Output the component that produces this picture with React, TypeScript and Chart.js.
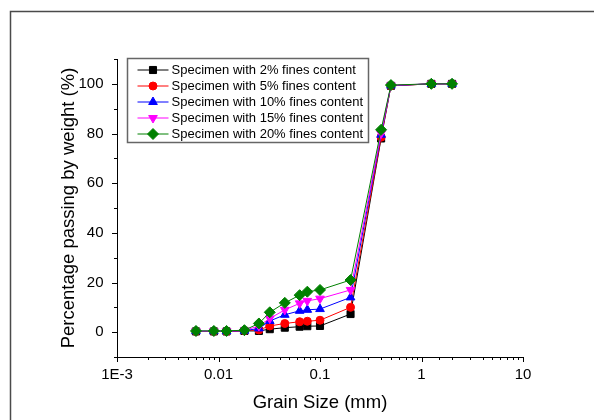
import React, { useEffect, useRef } from 'react';
import { Chart, registerables } from 'chart.js';
import { drawPoint } from 'chart.js/helpers';

Chart.register(...registerables);

const FONT = "'Liberation Sans', Arial, Helvetica, sans-serif";

// Grain size (mm)
const grainSizes = [0.006, 0.009, 0.012, 0.018, 0.025, 0.032, 0.045, 0.063, 0.075, 0.1, 0.2, 0.4, 0.5, 1.25, 2];
// Percentage passing by weight (%)
const fines2 = [0.3, 0.3, 0.3, 0.5, 0.5, 1.2, 1.8, 2.2, 2.4, 2.5, 7.3, 78, 99.2, 100, 100];
const fines5 = [0.3, 0.3, 0.3, 0.6, 0.9, 2.5, 3.5, 4.2, 4.4, 4.8, 10, 78.5, 99.2, 100, 100];
const fines10 = [0.4, 0.4, 0.4, 0.6, 1.5, 4.5, 7, 8.6, 9, 9.3, 14, 79.5, 99.3, 100, 100];
const fines15 = [0.4, 0.4, 0.4, 0.7, 2.5, 5.5, 9, 11.6, 12.6, 13.5, 17, 80, 99.4, 100, 100];
const fines20 = [0.5, 0.5, 0.5, 0.8, 3.5, 8, 11.8, 14.9, 16.3, 17, 21, 81.5, 99.5, 100, 100];

const seriesNames = [
  'Specimen with 2% fines content',
  'Specimen with 5% fines content',
  'Specimen with 10% fines content',
  'Specimen with 15% fines content',
  'Specimen with 20% fines content',
];
const seriesValues = [fines2, fines5, fines10, fines15, fines20];
const seriesColors = ['#000000', '#ff0000', '#0000ff', '#ff00ff', '#008000'];
const seriesPointStyles = ['rect', 'circle', 'triangle', 'triangle', 'rectRot'];
const seriesRotations = [0, 0, 0, 180, 0];
const seriesRadii = [5, 4, 5, 5, 5.5];

const xTickValues = [0.001, 0.01, 0.1, 1, 10];
const xTickLabels = ['1E-3', '0.01', '0.1', '1', '10'];
const yTickLabels = [0, 20, 40, 60, 80, 100];

const isMajorX = (v: number) => xTickValues.some((t) => Math.abs(v - t) / t < 1e-6);
const xLabelFor = (v: number) => {
  const i = xTickValues.findIndex((t) => Math.abs(v - t) / t < 1e-6);
  return i >= 0 ? xTickLabels[i] : '';
};
const isMajorY = (v: number) => yTickLabels.some((t) => Math.abs(v - t) < 1e-6);

const framePlugin = {
  id: 'frame',
  beforeDraw(chart: any) {
    const ctx = chart.ctx;
    ctx.save();
    ctx.strokeStyle = '#4a4a4a';
    ctx.lineWidth = 1.5;
    ctx.beginPath();
    ctx.moveTo(10.5, chart.height);
    ctx.lineTo(10.5, 11.5);
    ctx.lineTo(chart.width, 11.5);
    ctx.stroke();
    ctx.restore();
  },
};

const tickPlugin = {
  id: 'minorMajorTicks',
  afterDraw(chart: any) {
    const ctx = chart.ctx;
    const xs = chart.scales.x;
    const ys = chart.scales.y;
    const area = chart.chartArea;
    ctx.save();
    ctx.strokeStyle = '#000';
    ctx.lineWidth = 1;
    ctx.beginPath();
    xs.ticks.forEach((t: any) => {
      const px = Math.round(xs.getPixelForValue(t.value)) + 0.5;
      const len = isMajorX(t.value) ? 5 : 3;
      ctx.moveTo(px, area.bottom);
      ctx.lineTo(px, area.bottom + len);
    });
    ys.ticks.forEach((t: any) => {
      const py = Math.round(ys.getPixelForValue(t.value)) + 0.5;
      const len = isMajorY(t.value) ? 5 : 3;
      ctx.moveTo(area.left, py);
      ctx.lineTo(area.left - len, py);
    });
    ctx.stroke();
    ctx.restore();
  },
};

const legendPlugin = {
  id: 'boxLegend',
  afterDraw(chart: any) {
    const ctx = chart.ctx;
    const area = chart.chartArea;
    const bx = area.left + 10.5;
    const by = area.top - 0.5;
    const bw = 241;
    const bh = 84;
    ctx.save();
    ctx.strokeStyle = '#666';
    ctx.lineWidth = 1.5;
    ctx.strokeRect(bx, by, bw, bh);
    ctx.font = `13px ${FONT}`;
    ctx.textBaseline = 'middle';
    ctx.textAlign = 'left';
    chart.data.datasets.forEach((ds: any, i: number) => {
      const y = by + 11.5 + i * 16;
      ctx.strokeStyle = ds.borderColor;
      ctx.lineWidth = 1;
      ctx.beginPath();
      ctx.moveTo(bx + 10, y);
      ctx.lineTo(bx + 41, y);
      ctx.stroke();
      ctx.fillStyle = ds.pointBackgroundColor;
      ctx.strokeStyle = ds.pointBorderColor;
      drawPoint(ctx, {
        pointStyle: ds.pointStyle,
        rotation: ds.pointRotation,
        radius: ds.pointRadius,
        borderWidth: 1,
      } as any, bx + 25.5, y);
      ctx.fillStyle = '#000';
      ctx.fillText(ds.label, bx + 44, y + 0.5);
    });
    ctx.restore();
  },
};

export default function App() {
  const canvasRef = useRef<HTMLCanvasElement | null>(null);

  useEffect(() => {
    if (!canvasRef.current) return;
    const datasets = seriesNames.map((name, i) => ({
      label: name,
      data: grainSizes.map((x, j) => ({ x, y: seriesValues[i][j] })),
      borderColor: seriesColors[i],
      backgroundColor: seriesColors[i],
      pointBackgroundColor: seriesColors[i],
      pointBorderColor: seriesColors[i],
      pointStyle: seriesPointStyles[i],
      pointRotation: seriesRotations[i],
      pointRadius: seriesRadii[i],
      pointBorderWidth: 1,
      borderWidth: 1,
      tension: 0,
      fill: false,
      order: seriesNames.length - 1 - i,
    }));

    const chart = new Chart(canvasRef.current, {
      type: 'line',
      data: { datasets } as any,
      plugins: [framePlugin, tickPlugin, legendPlugin],
      options: {
        animation: false,
        responsive: false,
        devicePixelRatio: 1,
        parsing: true,
        layout: { padding: { left: 50, top: 59, right: 71, bottom: 0 } },
        plugins: {
          legend: { display: false },
          tooltip: { enabled: false },
          title: { display: false },
        },
        scales: {
          x: {
            type: 'logarithmic',
            position: 'bottom',
            min: 0.001,
            max: 10,
            grid: {
              display: true,
              drawOnChartArea: false,
              drawTicks: true,
              tickLength: 5,
              color: 'rgba(0,0,0,0)',
              tickColor: 'rgba(0,0,0,0)',
            },
            border: { display: true, color: '#000', width: 1 },
            ticks: {
              autoSkip: false,
              maxRotation: 0,
              minRotation: 0,
              padding: 4,
              color: '#000',
              font: { family: FONT, size: 15 },
              callback: (v: any) => xLabelFor(Number(v)),
            },
            title: {
              display: true,
              text: 'Grain Size (mm)',
              color: '#000',
              font: { family: FONT, size: 18.5 },
              padding: { top: 0, bottom: 6 },
            },
            afterFit: (s: any) => {
              s.height = 63;
              s.paddingLeft = 0;
              s.paddingRight = 0;
            },
          },
          y: {
            type: 'linear',
            position: 'left',
            min: -10,
            max: 110,
            grid: {
              display: true,
              drawOnChartArea: false,
              drawTicks: true,
              tickLength: 5,
              color: 'rgba(0,0,0,0)',
              tickColor: 'rgba(0,0,0,0)',
            },
            border: { display: true, color: '#000', width: 1 },
            ticks: {
              stepSize: 10,
              autoSkip: false,
              padding: 8.5,
              color: '#000',
              font: { family: FONT, size: 15 },
              callback: (v: any) => (isMajorY(Number(v)) ? String(v) : ''),
            },
            title: {
              display: true,
              text: 'Percentage passing by weight (%)',
              color: '#000',
              font: { family: FONT, size: 18.5 },
              padding: { top: 7.5, bottom: 0 },
            },
            afterFit: (s: any) => {
              s.width = 67;
              s.paddingTop = 0;
              s.paddingBottom = 0;
            },
          },
        },
      } as any,
    });
    return () => chart.destroy();
  }, []);

  return (
    <div style={{ position: 'absolute', left: 0, top: 0, width: 594, height: 420, background: '#fff' }}>
      <canvas ref={canvasRef} width={594} height={420} style={{ display: 'block', width: 594, height: 420 }} />
    </div>
  );
}
